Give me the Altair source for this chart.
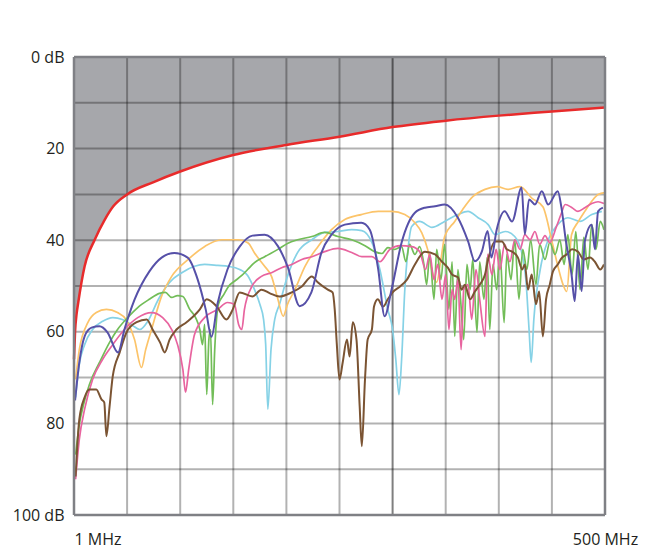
import altair as alt
import pandas as pd

# ---- data (x in grid divisions 0..10 = 1 MHz..500 MHz, y in dB attenuation) ----
limit_x = [0, 0.02, 0.05, 0.08, 0.2, 0.39, 0.58, 0.74, 1.0, 1.5, 2, 3, 4, 5, 6, 7, 8, 9, 10]
limit_db = [66, 60, 56, 53.6, 45.7, 39.9, 35.5, 32.6, 30.0, 27.3, 25, 21.4, 19.2, 17.4, 15.3, 13.9, 12.8, 11.9, 11.0]

blue_x = [0.02, 0.10, 0.2, 0.33, 0.48, 0.63, 0.83, 0.95, 1.14, 1.42, 1.65, 1.89, 2.14, 2.33, 2.48, 2.59, 2.70, 2.89,
          3.12, 3.36, 3.59, 3.84, 4.03, 4.25, 4.47, 4.66, 4.85, 5.10, 5.41, 5.57, 5.73, 5.85, 5.98, 6.17, 6.42, 6.61,
          6.80, 6.98, 7.23, 7.42, 7.55, 7.68, 7.79, 7.86, 7.96, 8.11, 8.25, 8.43, 8.49, 8.57, 8.68, 8.81, 8.93, 9.11,
          9.18, 9.26, 9.37, 9.43, 9.49, 9.56, 9.62, 9.75, 9.81, 9.87, 9.96]
blue_db = [75, 66.7, 61, 59.1, 58.8, 60.1, 64.5, 59.5, 53, 46.8, 43.8, 42.8, 43.8, 48.6, 55.1, 61.1, 54.0, 46.4,
           41.4, 39, 38.8, 41.3, 46, 54.4, 51.4, 42.7, 38.8, 36.6, 36.2, 37.7, 46.4, 56.6, 50.8, 40.5, 34.0, 32.9,
           32.6, 32.2, 35.1, 40.2, 44.6, 42.5, 38.0, 43.8, 37.7, 33.7, 35.9, 28.5, 38.7, 31.1, 32.2, 29.3, 32.2, 29.3,
           32.9, 39.9, 47.5, 53.3, 43.1, 51.1, 40.2, 36.6, 42, 33.7, 32.9]

yellow_x = [0.03, 0.10, 0.26, 0.42, 0.61, 0.82, 0.98, 1.14, 1.27, 1.35, 1.46, 1.65, 1.84, 2.15, 2.47, 2.78, 3.10,
            3.28, 3.40, 3.59, 3.72, 3.84, 3.94, 4.02, 4.16, 4.35, 4.60, 4.85, 5.10, 5.41, 5.73, 5.98, 6.23, 6.42,
            6.55, 6.66, 6.76, 6.83, 6.91, 6.98, 7.17, 7.32, 7.51, 7.74, 7.97, 8.17, 8.40, 8.62, 8.83, 9.0, 9.12,
            9.21, 9.28, 9.37, 9.50, 9.62, 9.75, 9.87, 10]
yellow_db = [70.4, 63.9, 58, 55.8, 55.1, 55.8, 57.3, 61.7, 67.8, 63.9, 59.5, 52.2, 47.9, 44.2, 41.3, 39.9, 39.9,
             40.6, 42.8, 45.7, 47.9, 52.9, 56.6, 54, 50.8, 45.7, 41.3, 37.7, 35.5, 34.4, 33.7, 33.7, 34.4, 36.2,
             38.4, 42, 47.5, 49.2, 44.2, 39.2, 35.9, 33.3, 30.5, 28.9, 28.3, 28.9, 28.3, 30.8, 32.7, 40.2, 46,
             49.7, 51.2, 38.8, 35.9, 33.7, 31.5, 30, 29.6]

cyan_x = [0.03, 0.10, 0.20, 0.35, 0.54, 0.73, 0.91, 1.10, 1.24, 1.39, 1.59, 1.80, 2.03, 2.27, 2.46, 2.71, 2.91,
          3.12, 3.27, 3.40, 3.50, 3.57, 3.61, 3.65, 3.71, 3.78, 3.87, 4.02, 4.21, 4.48, 4.72, 4.97, 5.23, 5.42,
          5.61, 5.76, 5.91, 6.0, 6.06, 6.12, 6.17, 6.23, 6.29, 6.36, 6.51, 6.74, 6.98, 7.23, 7.42, 7.61, 7.80,
          7.93, 8.12, 8.30, 8.44, 8.51, 8.57, 8.61, 8.66, 8.78, 8.93, 9.11, 9.30, 9.53, 9.75, 9.94]
cyan_db = [74.3, 67.1, 62.8, 59.5, 57.7, 56.9, 57.3, 58.6, 59.5, 57.7, 52.9, 49.2, 47.1, 45.7, 45.3, 45.5, 45.7,
           46.4, 47.7, 50.8, 54.0, 57.3, 62.8, 76.9, 63.9, 57.3, 54.0, 47.9, 42.7, 39.9, 38.3, 38.1, 37.7, 37.9,
           40.5, 46.4, 55.1, 59.5, 66.0, 73.7, 66.0, 50.8, 42.0, 37.0, 35.9, 37.2, 35.9, 34.4, 33.7, 35.1, 36.6,
           38.8, 38.1, 39.2, 43.1, 48.6, 59.5, 66.7, 57.3, 46.4, 39.9, 36.6, 35.1, 35.9, 34.4, 33.7]

green_x = [0.03, 0.10, 0.18, 0.29, 0.48, 0.67, 0.82, 1.01, 1.20, 1.42, 1.61, 1.72, 1.84, 1.95, 2.05, 2.18, 2.29,
           2.37, 2.42, 2.46, 2.50, 2.54, 2.57, 2.61, 2.65, 2.72, 2.82, 2.91, 3.04, 3.16, 3.27, 3.40, 3.59, 3.84,
           4.02, 4.21, 4.48, 4.72, 4.97, 5.23, 5.48, 5.66, 5.80, 5.91, 6.04, 6.17, 6.25, 6.32, 6.42, 6.51, 6.59,
           6.64, 6.70, 6.78, 6.83, 6.91, 6.98, 7.06, 7.12, 7.17, 7.23, 7.28, 7.34, 7.40, 7.46, 7.51, 7.59, 7.64,
           7.72, 7.78, 7.83, 7.89, 7.96, 8.02, 8.10, 8.15, 8.23, 8.30, 8.38, 8.45, 8.53, 8.60, 8.70, 8.77, 8.87,
           8.96, 9.06, 9.15, 9.23, 9.30, 9.38, 9.45, 9.53, 9.60, 9.68, 9.75, 9.83, 9.91, 9.98]
green_db = [86.8, 80.2, 75.9, 71.5, 66.7, 62.3, 59.5, 56.9, 54.7, 52.9, 51.6, 51.4, 52.5, 52.1, 52.3, 55.1, 56.9,
            59.5, 62.8, 58.4, 73.7, 61.7, 59.5, 75.9, 63.9, 54.0, 51.9, 50.1, 48.8, 47.7, 46.4, 44.9, 43.6, 42.0,
            40.7, 39.9, 39.2, 38.3, 39.2, 39.9, 41.2, 42.5, 42.9, 41.6, 42.0, 41.4, 44.7, 40.9, 43.1, 41.4, 45.3,
            49.7, 43.1, 52.9, 42.0, 48.6, 40.9, 55.1, 44.7, 61.0, 46.4, 52.9, 61.7, 45.3, 50.8, 44.2, 60.1, 44.7,
            52.9, 43.8, 59.5, 45.3, 50.8, 42.0, 58.0, 43.1, 48.6, 39.9, 52.9, 42.0, 46.4, 39.9, 49.7, 40.9, 44.2,
            40.5, 43.1, 39.9, 45.3, 38.8, 47.5, 38.1, 50.8, 39.4, 46.4, 36.6, 42.0, 35.9, 37.7]

pink_x = [0.03, 0.10, 0.20, 0.35, 0.54, 0.73, 0.95, 1.20, 1.46, 1.67, 1.84, 1.95, 2.05, 2.10, 2.16, 2.27, 2.46,
          2.71, 2.89, 3.02, 3.10, 3.16, 3.21, 3.35, 3.53, 3.72, 3.91, 4.10, 4.29, 4.48, 4.72, 4.97, 5.23, 5.42,
          5.61, 5.76, 5.95, 6.14, 6.36, 6.51, 6.62, 6.70, 6.78, 6.85, 6.93, 7.0, 7.06, 7.12, 7.17, 7.23, 7.29,
          7.34, 7.42, 7.49, 7.57, 7.64, 7.74, 7.79, 7.87, 7.95, 8.02, 8.11, 8.21, 8.30, 8.40, 8.49, 8.59, 8.68,
          8.77, 8.87, 8.96, 9.08, 9.17, 9.25, 9.38, 9.49, 9.62, 9.75, 9.87, 9.98]
pink_db = [92.2, 83.5, 76.9, 70.4, 66.0, 62.8, 59.5, 56.9, 55.8, 56.9, 59.5, 62.8, 68.2, 73.2, 68.2, 60.6, 56.9,
           55.1, 53.6, 54.0, 58.4, 59.5, 55.1, 50.1, 47.9, 47.1, 46.0, 45.3, 44.2, 43.6, 42.5, 41.8, 42.7, 43.6,
           43.6, 44.7, 42.0, 41.2, 41.4, 42.5, 46.4, 43.1, 48.6, 45.3, 52.9, 47.5, 59.5, 50.8, 52.9, 48.6, 63.9,
           50.8, 49.7, 57.3, 46.4, 52.9, 61.0, 43.1, 47.5, 42.0, 46.4, 40.9, 44.7, 39.9, 42.0, 38.8, 39.9, 38.1,
           40.9, 39.0, 40.5, 37.2, 34.4, 32.2, 32.9, 33.7, 32.9, 32.0, 31.6, 32.0]

brown_x = [0.03, 0.10, 0.20, 0.29, 0.42, 0.52, 0.57, 0.61, 0.67, 0.73, 0.86, 0.99, 1.18, 1.37, 1.48, 1.62, 1.71,
           1.80, 1.93, 2.12, 2.37, 2.50, 2.69, 2.87, 2.99, 3.12, 3.36, 3.53, 3.69, 3.87, 4.10, 4.29, 4.48, 4.59,
           4.78, 4.87, 4.91, 4.95, 5.0, 5.06, 5.14, 5.19, 5.25, 5.32, 5.38, 5.42, 5.48, 5.53, 5.61, 5.65, 5.72,
           5.82, 5.91, 6.0, 6.14, 6.27, 6.42, 6.61, 6.80, 6.93, 7.04, 7.12, 7.23, 7.30, 7.36, 7.46, 7.55, 7.64,
           7.74, 7.79, 7.93, 8.06, 8.15, 8.25, 8.36, 8.44, 8.49, 8.55, 8.62, 8.70, 8.76, 8.83, 8.89, 8.96, 9.02,
           9.11, 9.19, 9.28, 9.38, 9.49, 9.60, 9.72, 9.81, 9.91, 9.98]
brown_db = [91.6, 79.1, 74.3, 72.6, 72.6, 74.8, 75.4, 82.8, 76.3, 69.7, 64.5, 60.1, 57.9, 57.3, 59.5, 62.3, 64.5,
            61.7, 59.5, 57.9, 55.1, 52.9, 54.5, 57.3, 55.1, 51.4, 52.3, 50.8, 51.6, 52.3, 51.4, 50.1, 47.9, 49.2,
            50.8, 51.4, 55.1, 62.8, 70.4, 66.7, 61.7, 65.4, 57.9, 61.7, 76.3, 85.0, 70.4, 61.7, 59.5, 54.5, 52.9,
            54.5, 52.9, 51.4, 50.1, 48.6, 45.3, 42.5, 43.1, 44.7, 46.0, 47.5, 48.1, 50.8, 49.7, 52.9, 51.2, 49.7,
            47.5, 44.7, 40.3, 40.3, 42.0, 42.5, 43.8, 46.4, 45.3, 50.8, 47.5, 54.0, 51.2, 61.0, 52.9, 49.7, 46.8,
            45.3, 43.8, 43.1, 42.0, 42.5, 44.2, 43.8, 44.7, 46.4, 45.3]

grid_x = list(range(0, 11))
grid_db = list(range(0, 101, 10))
y_label_values = [0, 20, 40, 60, 80, 100]
x_label_values = [0, 10]
x_label_text = ["1 MHz", "500 MHz"]

W, H = 531, 458

xscale = alt.Scale(domain=[0, 10], nice=False, zero=False)
yscale = alt.Scale(domain=[0, 100], nice=False, zero=False, reverse=True)

xaxis = alt.Axis(values=x_label_values,
                 labelExpr="datum.value == 0 ? '%s' : '%s'" % tuple(x_label_text),
                 labelAlign={"condition": {"test": "datum.value == 0", "value": "left"}, "value": "center"},
                 labelBaseline="top", labelPadding=16, labelFlush=False,
                 grid=False, ticks=False, domain=False, title=None)
yaxis = alt.Axis(values=y_label_values,
                 labelExpr="datum.value == 0 ? '0 dB' : datum.value == 100 ? '100 dB' : datum.label",
                 labelPadding=10, grid=False, ticks=False, domain=False, title=None)

X = lambda f: alt.X(f, type="quantitative", scale=xscale, axis=xaxis)
Y = lambda f: alt.Y(f, type="quantitative", scale=yscale, axis=yaxis)

limit_df = pd.DataFrame({"x": limit_x, "y": limit_db, "top": [0] * len(limit_x)})

area = alt.Chart(limit_df).mark_area(color="#a6a7ab", interpolate="monotone").encode(
    x=X("x"), y=Y("y"), y2="top")

vgrid = pd.DataFrame({"x": grid_x, "y0": [0] * len(grid_x), "y1": [100] * len(grid_x),
                      "o": [0.3 if v != 6 else 0.5 for v in grid_x]})
hgrid = pd.DataFrame({"y": grid_db, "x0": [0] * len(grid_db), "x1": [10] * len(grid_db)})

vrules = alt.Chart(vgrid).mark_rule(color="black", strokeWidth=2).encode(
    x=X("x"), y=Y("y0"), y2="y1", opacity=alt.Opacity("o:Q", scale=None))
hrules = alt.Chart(hgrid).mark_rule(color="black", strokeWidth=2, opacity=0.3).encode(
    y=Y("y"), x=X("x0"), x2="x1")

series = [
    ("cyan", cyan_x, cyan_db, "#86d2e6", 1.7),
    ("yellow", yellow_x, yellow_db, "#fcc46a", 1.7),
    ("green", green_x, green_db, "#72bd58", 1.7),
    ("pink", pink_x, pink_db, "#e8649f", 1.7),
    ("brown", brown_x, brown_db, "#7b5433", 2.0),
    ("blue", blue_x, blue_db, "#5650a8", 2.0),
]
lines = []
for name, xs, ys, col, sw in series:
    df = pd.DataFrame({"x": xs, "y": ys})
    lines.append(alt.Chart(df).mark_line(color=col, strokeWidth=sw, interpolate="monotone").encode(
        x=X("x"), y=Y("y")))

red = alt.Chart(limit_df).mark_line(color="#e82b2b", strokeWidth=2.5, interpolate="monotone").encode(
    x=X("x"), y=Y("y"))

frame_v = pd.DataFrame({"x": [0, 10], "y0": [0, 0], "y1": [100, 100]})
frame_h = pd.DataFrame({"y": [0, 100], "x0": [0, 0], "x1": [10, 10]})
fv = alt.Chart(frame_v).mark_rule(color="#7f8085", strokeWidth=2.5).encode(x=X("x"), y=Y("y0"), y2="y1")
fh = alt.Chart(frame_h).mark_rule(color="#7f8085", strokeWidth=2.5).encode(y=Y("y"), x=X("x0"), x2="x1")

chart = alt.layer(area, vrules, hrules, *lines, red, fv, fh).properties(
    width=W, height=H,
    autosize=alt.AutoSizeParams(type="none"),
    padding={"left": 66, "top": 49, "right": 44, "bottom": 40},
).configure_view(stroke=None).configure_axis(
    labelFont="Open Sans", labelFontSize=16, labelColor="#231f20"
)

chart.save("out.html", embed_options={"renderer": "svg", "actions": False})
